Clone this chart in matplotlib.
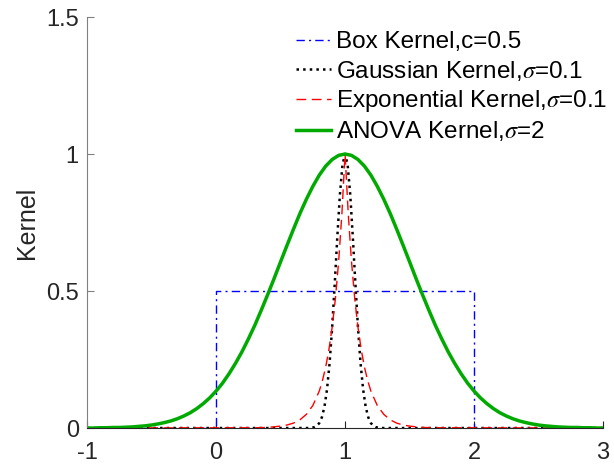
import matplotlib
matplotlib.use("Agg")
import matplotlib.pyplot as plt
import numpy as np

plt.rcParams['font.family'] = ['Liberation Sans', 'DejaVu Sans']
plt.rcParams['mathtext.fontset'] = 'stix'

# Box kernel (c=0.5): steps at 0 and 2
box_x = [-1, 0, 0, 2, 2, 3]
box_y = [0, 0, 0.5, 0.5, 0, 0]

gauss_x = [-1, 0.70, 0.72, 0.74, 0.76, 0.78, 0.80, 0.82, 0.84, 0.86, 0.88,
           0.90, 0.92, 0.94, 0.96, 0.98, 1.00, 1.02, 1.04, 1.06, 1.08, 1.10,
           1.12, 1.14, 1.16, 1.18, 1.20, 1.22, 1.24, 1.26, 1.28, 1.30, 3]
gauss_y = [0, 0.000, 0.000, 0.001, 0.003, 0.008, 0.018, 0.039, 0.077, 0.141,
           0.237, 0.368, 0.527, 0.698, 0.852, 0.961, 1.000, 0.961, 0.852,
           0.698, 0.527, 0.368, 0.237, 0.141, 0.077, 0.039, 0.018, 0.008,
           0.003, 0.001, 0.000, 0.000, 0]

# Exponential kernel, sigma=0.1
expo_x = [-1, 0.30, 0.40, 0.50, 0.55, 0.60, 0.65, 0.70, 0.75, 0.80, 0.825,
          0.85, 0.875, 0.90, 0.925, 0.95, 0.975, 1.00, 1.025, 1.05, 1.075,
          1.10, 1.125, 1.15, 1.175, 1.20, 1.25, 1.30, 1.35, 1.40, 1.45, 1.50,
          1.60, 1.70, 3]
expo_y = [0, 0.001, 0.002, 0.007, 0.011, 0.018, 0.030, 0.050, 0.082, 0.135,
          0.174, 0.223, 0.287, 0.368, 0.472, 0.607, 0.779, 1.000, 0.779,
          0.607, 0.472, 0.368, 0.287, 0.223, 0.174, 0.135, 0.082, 0.050,
          0.030, 0.018, 0.011, 0.007, 0.002, 0.001, 0]

# ANOVA kernel, sigma=2: half curve from the peak (x=1) outwards, step 0.05
anova_x = np.round(np.arange(-1.0, 3.001, 0.05), 2)
anova_half = [1.000, 0.995, 0.980, 0.956, 0.923, 0.882, 0.835, 0.783, 0.726,
              0.667, 0.607, 0.546, 0.487, 0.430, 0.375, 0.325, 0.278, 0.236,
              0.198, 0.164, 0.135, 0.110, 0.089, 0.071, 0.056, 0.044, 0.034,
              0.026, 0.020, 0.015, 0.011, 0.008, 0.006, 0.004, 0.003, 0.002,
              0.002, 0.001, 0.001, 0.000, 0.000]
anova_y = anova_half[::-1] + anova_half[1:]

labels = ['Box Kernel,c=0.5',
          r'Gaussian Kernel,$\sigma$=0.1',
          r'Exponential Kernel,$\sigma$=0.1',
          r'ANOVA Kernel,$\sigma$=2']

fig = plt.figure(figsize=(6.14, 4.66), dpi=100)
ax = fig.add_axes([0.142, 0.0815, 0.84, 0.882])

ax.plot(box_x, box_y, color='#0000ff', linestyle='-.', lw=1.0,
        dashes=(6, 3, 1.5, 3), label=labels[0])
ax.plot(gauss_x, gauss_y, color='black', linestyle=':', lw=1.8, label=labels[1])
ax.plot(expo_x, expo_y, color='#ff0000', linestyle='--', lw=1.0,
        dashes=(7, 4), label=labels[2])
ax.plot(anova_x, anova_y, color='#00aa00', linestyle='-', lw=2.5, label=labels[3])

ax.set_xlim(-1, 3)
ax.set_ylim(0, 1.5)
ax.set_xticks([-1, 0, 1, 2, 3])
ax.set_xticklabels(['-1', '0', '1', '2', '3'])
ax.set_yticks([0, 0.5, 1, 1.5])
ax.set_yticklabels(['0', '0.5', '1', '1.5'])
ax.set_ylabel('Kernel', fontsize=18, color='#262626', labelpad=5)

for s in ['top', 'right']:
    ax.spines[s].set_visible(False)
ax.spines['left'].set_color('#808080')
ax.spines['bottom'].set_color('#262626')
ax.tick_params(direction='in', length=5, width=0.8, labelsize=17,
               colors='#262626', pad=6)
ax.tick_params(axis='x', pad=10)
ax.tick_params(axis='y', colors='#808080', labelcolor='#262626')

leg = ax.legend(loc='upper left', bbox_to_anchor=(0.405, 0.965), frameon=False,
                fontsize=17.5, handlelength=1.45, handletextpad=0.2,
                labelspacing=0.22, borderpad=0, borderaxespad=0)

fig.savefig('out.png', dpi=100)
